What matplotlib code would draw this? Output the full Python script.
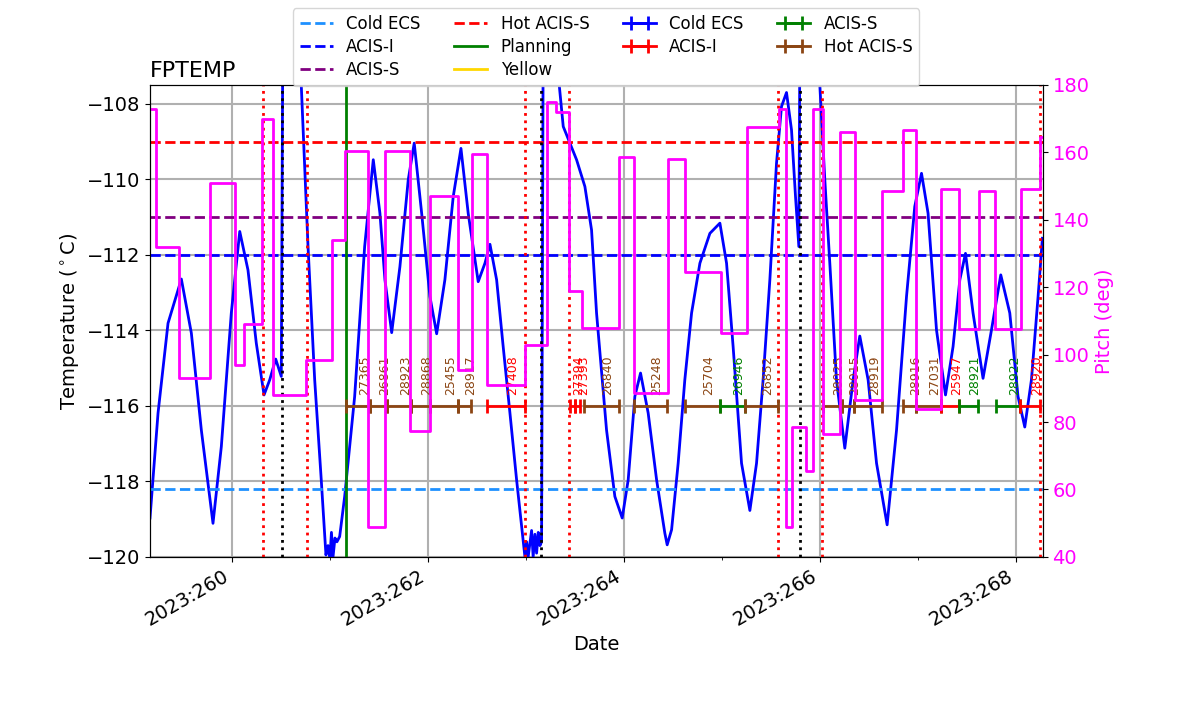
import matplotlib
matplotlib.use("Agg")
import matplotlib.pyplot as plt
import numpy as np
from matplotlib.ticker import MultipleLocator, FuncFormatter

plt.rcParams['font.size'] = 14

# FPTEMP model (day of year 2023, deg C)
temp_times = [259.163, 259.245, 259.347, 259.483, 259.585, 259.687, 259.806, 259.891,
              259.993, 260.079, 260.163, 260.248, 260.327, 260.385, 260.446, 260.503,
              260.526, 260.592, 260.707, 260.776, 260.844, 260.911, 260.959, 260.980,
              261.000, 261.015, 261.031, 261.051, 261.071, 261.099, 261.150, 261.252,
              261.354, 261.442, 261.510, 261.561, 261.630, 261.714, 261.799, 261.860,
              261.936, 262.020, 262.089, 262.173, 262.258, 262.337, 262.411, 262.513,
              262.582, 262.633, 262.701, 262.768, 262.837, 262.905, 262.972, 262.990,
              263.007, 263.023, 263.058, 263.074, 263.092, 263.109, 263.126, 263.143,
              263.160, 263.179, 263.245, 263.340, 263.381, 263.449, 263.517, 263.602,
              263.670, 263.721, 263.823, 263.908, 263.983, 264.044, 264.112, 264.170,
              264.248, 264.334, 264.418, 264.442, 264.487, 264.554, 264.622, 264.691,
              264.776, 264.878, 264.980, 265.048, 265.115, 265.201, 265.286, 265.354,
              265.421, 265.490, 265.558, 265.609, 265.660, 265.711, 265.752, 265.786,
              265.801, 265.898, 266.000, 266.051, 266.102, 266.170, 266.255, 266.340,
              266.408, 266.493, 266.579, 266.687, 266.783, 266.885, 266.969, 267.038,
              267.105, 267.191, 267.283, 267.360, 267.429, 267.487, 267.564, 267.666,
              267.752, 267.847, 267.939, 268.023, 268.092, 268.160, 268.228, 268.272]
temp_vals = [-118.97, -116.19, -113.81, -112.64, -114.07, -116.64, -119.11, -117.08,
             -113.54, -111.38, -112.40, -114.34, -115.71, -115.31, -114.76, -115.22,
             -102.0, -101.0, -107.5, -111.78, -115.31, -117.96, -119.95, -119.7,
             -120.0, -119.35, -120.0, -119.5, -119.6, -119.46, -118.40, -115.75,
             -111.78, -109.48, -110.9, -112.66, -114.06, -112.31, -110.01, -109.04,
             -110.9, -113.1, -114.09, -112.66, -110.46, -109.18, -110.9, -112.71,
             -112.22, -111.72, -112.66, -114.43, -116.19, -117.96, -119.55, -120.0,
             -119.6, -120.0, -119.3, -120.0, -119.4, -119.9, -119.35, -119.7,
             -119.6, -104.0, -102.5, -107.5, -108.6, -109.04, -109.48, -110.19,
             -111.34, -113.54, -116.64, -118.40, -118.97, -117.96, -115.75, -115.13,
             -116.19, -117.96, -119.37, -119.68, -119.28, -117.52, -115.31, -113.54,
             -112.22, -111.43, -111.16, -112.22, -114.43, -117.52, -118.77, -117.52,
             -115.31, -112.66, -109.57, -108.07, -107.70, -108.69, -110.46, -111.78,
             -104.0, -103.0, -107.5, -110.01, -112.22, -115.31, -117.12, -115.31,
             -114.15, -115.31, -117.52, -119.15, -116.64, -113.1, -110.72, -109.84,
             -110.9, -113.99, -115.71, -114.43, -112.66, -111.96, -113.54, -115.27,
             -113.99, -112.53, -113.54, -115.75, -116.56, -115.31, -113.1, -111.56]

# pitch (step changes)
pitch_times = [259.163, 259.228, 259.456, 259.772, 260.034, 260.122, 260.309, 260.418,
               260.758, 261.020, 261.150, 261.388, 261.561, 261.816, 262.020, 262.309,
               262.446, 262.599, 262.993, 263.211, 263.303, 263.439, 263.574, 263.952,
               264.105, 264.446, 264.622, 264.987, 265.258, 265.585, 265.653, 265.721,
               265.857, 265.926, 266.028, 266.211, 266.357, 266.630, 266.844, 266.980,
               267.235, 267.421, 267.625, 267.793, 268.051, 268.245, 268.276]
pitch_vals = [173, 132, 93, 151, 97, 109, 170, 88,
              98.5, 134, 160.5, 49, 160.5, 77.5, 147, 95.5,
              159.5, 91, 103, 175, 172, 119, 108, 158.5,
              88.5, 158, 124.5, 106.5, 167.5, 173, 49, 78.5,
              65.5, 173, 76.5, 166, 86.5, 148.5, 166.5, 84,
              149, 107.5, 148.5, 107.5, 149, 164.5, 164.5]

# limits
limit_names = ['Cold ECS', 'ACIS-I', 'ACIS-S', 'Hot ACIS-S']
limit_vals = [-118.2, -112.0, -111.0, -109.0]
limit_colors = ['dodgerblue', 'blue', 'purple', 'red']

# radiation zone / perigee / planning markers
rad_times = [260.316, 260.765, 262.990, 263.439, 265.571, 266.020, 268.245]
perigee_times = [260.510, 263.153, 265.796]
plan_time = 261.163

# obsids: id, start, stop, instrument
obs_ids = ['27365', '26861', '28923', '28868', '25455', '28917', '27408', '27394',
           '27393', '26840', '25248', '25704', '26946', '26852', '28025', '28015',
           '28919', '28916', '27031', '25947', '28921', '28922', '28920']
obs_start = [261.163, 261.408, 261.582, 261.827, 262.020, 262.306, 262.602, 263.449,
             263.500, 263.592, 264.102, 264.622, 264.980, 265.235, 266.031, 266.224,
             266.347, 266.847, 266.980, 267.235, 267.418, 267.796, 268.041]
obs_stop = [261.408, 261.582, 261.827, 262.020, 262.306, 262.439, 262.990, 263.500,
            263.551, 263.949, 264.439, 264.980, 265.235, 265.571, 266.224, 266.347,
            266.633, 266.980, 267.235, 267.418, 267.612, 268.041, 268.245]
obs_inst = ['Hot ACIS-S', 'Hot ACIS-S', 'Hot ACIS-S', 'Hot ACIS-S', 'Hot ACIS-S',
            'Hot ACIS-S', 'ACIS-I', 'ACIS-I', 'ACIS-I', 'Hot ACIS-S', 'Hot ACIS-S',
            'Hot ACIS-S', 'ACIS-S', 'Hot ACIS-S', 'Hot ACIS-S', 'Hot ACIS-S',
            'Hot ACIS-S', 'Hot ACIS-S', 'Hot ACIS-S', 'ACIS-I', 'ACIS-S', 'ACIS-S',
            'ACIS-I']
inst_names = ['Cold ECS', 'ACIS-I', 'ACIS-S', 'Hot ACIS-S']
inst_colors = ['blue', 'red', 'green', 'saddlebrown']

fig, ax = plt.subplots(figsize=(12, 7.14))
fig.subplots_adjust(left=0.125, right=0.869, bottom=0.22, top=0.881)

ax.plot(temp_times, temp_vals, color='blue', lw=2)
for name, val, c in zip(limit_names, limit_vals, limit_colors):
    ax.axhline(val, color=c, ls='--', lw=2, label=name)
ax.plot([], [], color='green', lw=2, label='Planning')
ax.plot([], [], color='gold', lw=2, label='Yellow')
for t in rad_times:
    ax.axvline(t, color='red', ls=':', lw=2)
for t in perigee_times:
    ax.axvline(t, color='black', ls=':', lw=2)
ax.axvline(plan_time, color='green', lw=2)

# one errorbar per obsid, plus one legend entry per instrument
y_obs = -116.0
for name, c in zip(inst_names, inst_colors):
    ax.errorbar([np.nan], [np.nan], xerr=[np.nan], color=c, lw=2,
                capsize=5, capthick=2, label=name)
for i, o in enumerate(obs_ids):
    c = inst_colors[inst_names.index(obs_inst[i])]
    mid = (obs_start[i] + obs_stop[i]) / 2
    half = (obs_stop[i] - obs_start[i]) / 2
    ax.errorbar([mid], [y_obs], xerr=[half], color=c, lw=2, capsize=5, capthick=2)
    ax.text(mid, y_obs + 0.3, o, rotation=90, ha='left', va='bottom',
            fontsize=9, color=c)

ax.set_xlim(259.163, 268.276)
ax.set_ylim(-120, -107.5)
ax.xaxis.set_major_locator(MultipleLocator(2))
ax.xaxis.set_minor_locator(MultipleLocator(1))
ax.xaxis.set_major_formatter(FuncFormatter(lambda v, p: '2023:%03d' % int(round(v))))
for lab in ax.get_xticklabels():
    lab.set_rotation(30)
    lab.set_ha('right')
ax.grid(True, color='#b0b0b0', lw=1.5)
ax.set_xlabel('Date')
ax.set_ylabel(r'Temperature ($^\circ$C)')
ax.set_title('FPTEMP', loc='left', fontsize=16)

ax2 = ax.twinx()
ax2.plot(pitch_times, pitch_vals, color='magenta', lw=2, drawstyle='steps-post')
ax2.set_ylim(40, 180)
ax2.set_ylabel('Pitch (deg)', color='magenta')
ax2.tick_params(axis='y', labelcolor='magenta')

fig.legend(*ax.get_legend_handles_labels(), loc='upper center',
           bbox_to_anchor=(0.505, 1.0), ncol=4, fontsize=12, labelspacing=0.3)

fig.savefig('out.png', dpi=100)
